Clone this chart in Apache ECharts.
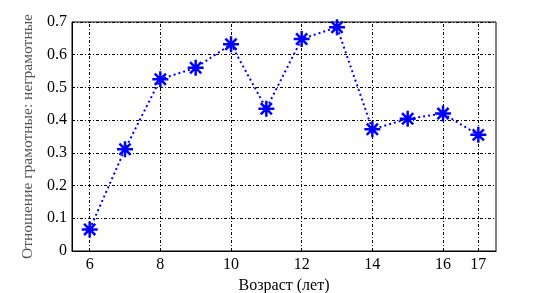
<!DOCTYPE html>
<html><head><meta charset="utf-8">
<script src="https://cdn.jsdelivr.net/npm/echarts@6/dist/echarts.min.js"></script>
<style>html,body{margin:0;padding:0;background:#fff}#c{width:549px;height:293px}</style>
</head><body><div id="c"></div>
<script>
const ages = [6, 7, 8, 9, 10, 11, 12, 13, 14, 15, 16, 17];
const ratio = [0.066, 0.311, 0.525, 0.560, 0.632, 0.435, 0.648, 0.684, 0.372, 0.404, 0.420, 0.355];
const xTicks = [6, 8, 10, 12, 14, 16, 17];
const xName = 'Возраст (лет)';
const yName = 'Отношение грамотные: неграмотные';

const font = 'Liberation Serif';
const dashDot = [3, 2, 1, 2];
const chart = echarts.init(document.getElementById('c'), null, {renderer: 'canvas'});
chart.setOption({
  animation: false,
  grid: {left: 72, right: 53, top: 22, bottom: 42, containLabel: false, outerBoundsMode: 'none',
    show: true, borderColor: '#000', borderWidth: 1, backgroundColor: 'transparent'},
  xAxis: {
    type: 'value', min: 5.5, max: 17.5,
    name: xName, nameLocation: 'middle', nameGap: 23,
    nameTextStyle: {fontFamily: font, fontSize: 16, color: '#000'},
    axisLine: {show: true, onZero: false, lineStyle: {color: '#000', width: 1}},
    axisTick: {show: true, inside: true, length: 3, customValues: xTicks, lineStyle: {color: '#000'}},
    axisLabel: {customValues: xTicks, fontFamily: font, fontSize: 16, color: '#000', margin: 6},
    splitLine: {show: false}
  },
  yAxis: {
    type: 'value', min: 0, max: 0.7, interval: 0.1,
    name: yName, nameLocation: 'middle', nameGap: 34, nameRotate: 90,
    nameTextStyle: {fontFamily: font, fontSize: 15.5, color: '#555'},
    axisLine: {show: true, lineStyle: {color: '#000', width: 1}},
    axisTick: {show: true, inside: true, length: 3, lineStyle: {color: '#000'}},
    axisLabel: {fontFamily: font, fontSize: 16, color: '#000', margin: 5,
      formatter: v => (Math.round(v * 10) / 10).toString()},
    splitLine: {show: true, lineStyle: {color: '#000', width: 1, type: dashDot}}
  },
  series: [{
    type: 'line',
    data: ages.map((a, i) => [a, ratio[i]]),
    lineStyle: {color: '#0000ff', width: 2, type: [2, 3]},
    symbol: 'path://M0,-10L0,10M-10,0L10,0M-7,-7L7,7M-7,7L7,-7',
    symbolSize: 16,
    itemStyle: {color: 'none', borderColor: '#0000ff', borderWidth: 2.5},
    markLine: {
      silent: true, symbol: 'none', label: {show: false},
      lineStyle: {color: '#000', width: 1, type: dashDot},
      data: xTicks.map(t => ({xAxis: t}))
    },
    z: 5
  }]
});
</script></body></html>
